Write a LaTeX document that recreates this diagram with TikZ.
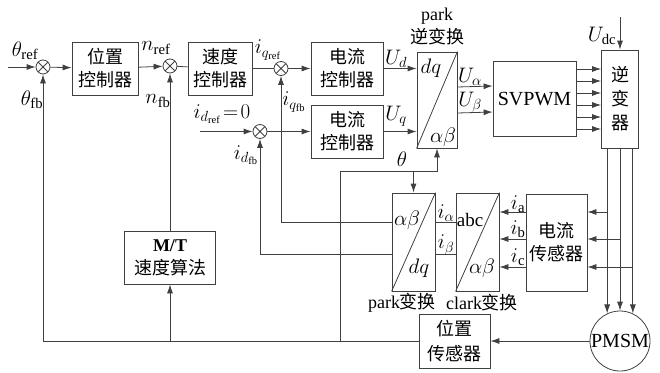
\RequirePackage{fix-cm}
\documentclass[tikz,border=0pt]{standalone}
\usepackage{fontspec}
\setmainfont{Liberation Serif}
\newfontfamily\cjk{Noto Sans CJK SC}
\usetikzlibrary{arrows.meta,positioning}

\begin{document}
\begin{tikzpicture}[x=1pt,y=-1pt,>={Latex[length=9pt,width=6pt]}]
		\tikzstyle{Line}	= [draw=black!75, line width=0.8pt]
		\tikzstyle{Block}	= [rectangle, Line, align=center, inner sep=0pt, font=\fontsize{18}{23}\selectfont\cjk]
		\tikzstyle{Sum}		= [circle, Line, minimum size=14pt, inner sep=0pt,
			path picture={\draw[Line] (path picture bounding box.north west) -- (path picture bounding box.south east)
				(path picture bounding box.north east) -- (path picture bounding box.south west);}]
		\tikzstyle{Label}	= [inner sep=0pt, font=\fontsize{21}{24}\selectfont]
		\useasboundingbox (0,0) rectangle (660,372);

		% forward path
		\node (s1) at (43,67) [Sum] {};
		\node (pc) at (105,68.5) [Block, minimum width=66pt, minimum height=53pt] {位置\\控制器};
		\node (s2) at (170,66) [Sum] {};
		\node (sc) at (220,68.5) [Block, minimum width=64pt, minimum height=53pt] {速度\\控制器};
		\node (s3) at (281,68.5) [Sum] {};
		\node (cc1) at (347,68.5) [Block, minimum width=72pt, minimum height=53pt] {电流\\控制器};
		\node (s4) at (260,131.5) [Sum] {};
		\node (cc2) at (347,131.5) [Block, minimum width=72pt, minimum height=53pt] {电流\\控制器};
		\node (pinv) at (437,100) [Block, minimum width=40pt, minimum height=96pt] {};
		\node (svpwm) at (534.5,99) [Block, minimum width=83pt, minimum height=75pt, font=\fontsize{20}{23}\selectfont] {SVPWM};
		\node (inv) at (620,99) [Block, minimum width=37pt, minimum height=98pt, font=\fontsize{18}{24}\selectfont\cjk] {逆\\变\\器};

		% feedback path
		\node (park) at (413.5,242) [Block, minimum width=43pt, minimum height=98pt] {};
		\node (clark) at (477.5,242) [Block, minimum width=43pt, minimum height=98pt] {};
		\node (cs) at (556.5,242.5) [Block, minimum width=61pt, minimum height=97pt] {电流\\传感器};
		\node (mt) at (170,257.5) [Block, minimum width=91pt, minimum height=53pt] {\rmfamily\textbf{M/T}\\速度算法};
		\node (ps) at (454.5,341) [Block, minimum width=71pt, minimum height=54pt, font=\fontsize{18}{25}\selectfont\cjk] {位置\\传感器};
		\node (pmsm) at (620,341) [circle, Line, minimum size=60pt, inner sep=0pt, font=\fontsize{20}{23}\selectfont] {PMSM};

		% texts in the transform blocks
		\node (pinv-dq) at (431,68) [Label] {$dq$};
		\node (pinv-ab) at (443,137) [Label] {$\alpha\beta$};
		\node (park-ab) at (407,220) [Label] {$\alpha\beta$};
		\node (park-dq) at (419,268) [Label] {$dq$};
		\node (clark-abc) at (470,220) [Label, font=\fontsize{19}{23}\selectfont] {abc};
		\node (clark-ab) at (482,268) [Label] {$\alpha\beta$};
		\node (pinv-lab) at (437,26) [Label, align=center, font=\fontsize{18}{23}\selectfont] {park\\{\cjk 逆变换}};
		\node (park-lab) at (402,303) [Label, font=\fontsize{18}{23}\selectfont] {park{\cjk 变换}};
		\node (clark-lab) at (482,303) [Label, font=\fontsize{18}{23}\selectfont] {clark{\cjk 变换}};

		% free ends and corners
		\coordinate (tin) at (8,67);
		\coordinate (din) at (200,131.5);
		\coordinate (udc) at (620,17);
		\coordinate (kq) at (281,222);
		\coordinate (kd) at (260,254);
		\coordinate (th0) at (340,341);
		\coordinate (th1) at (340,171);
		\coordinate (ta) at (607.3,212);
		\coordinate (tb) at (620,239);
		\coordinate (tc) at (632.7,267);

		\draw [->] (tin) to (s1) [Line];
		\draw [->] (s1) to (pc) [Line];
		\draw [->] (pc) to (s2) [Line];
		\draw [-] (s2) to (sc) [Line];
		\draw [-] (sc) to (s3) [Line];
		\draw [->] (s3) to (cc1) [Line];
		\draw [->] (din) to (s4) [Line];
		\draw [->] (s4) to (cc2) [Line];
		\draw [->] (cc1.east) to (cc1.east -| pinv.west) [Line];
		\draw [->] (cc2.east) to (cc2.east -| pinv.west) [Line];
		\draw [->] ([yshift=13pt]pinv.east) to ([yshift=13pt]svpwm.west) [Line];
		\draw [->] ([yshift=-13pt]pinv.east) to ([yshift=-13pt]svpwm.west) [Line];
		\foreach \dy in {-30,-18,-6,6,18,30}
			\draw [->] ([yshift=\dy pt]svpwm.east) to ([yshift=\dy pt]inv.west) [Line];
		\draw [->] (udc) to (inv.north) [Line];

		\draw [->] (pmsm.115 |- inv.south) to (pmsm.115) [Line];
		\draw [->] (pmsm.north |- inv.south) to (pmsm.north) [Line];
		\draw [->] (pmsm.65 |- inv.south) to (pmsm.65) [Line];
		\draw [->] (ta) to (ta -| cs.east) [Line];
		\draw [->] (tb) to (tb -| cs.east) [Line];
		\draw [->] (tc) to (tc -| cs.east) [Line];
		\draw [->] (ta -| cs.west) to (ta -| clark.east) [Line];
		\draw [->] (tb -| cs.west) to (tb -| clark.east) [Line];
		\draw [->] (tc -| cs.west) to (tc -| clark.east) [Line];
		\draw [-] (kq -| clark.west) to (kq -| park.east) [Line];
		\draw [-] (kd -| clark.west) to (kd -| park.east) [Line];
		\draw [->] (kq -| park.west) -- (kq) -- (s3) [Line];
		\draw [->] (kd -| park.west) -- (kd) -- (s4) [Line];

		\draw [->] (th0) -- (th1) -| (pinv.south) [Line];
		\draw [->] (th1 -| park.north) to (park.north) [Line];
		\draw [->] (pmsm) to (ps) [Line];
		\draw [->] (ps.west) -| (s1.south) [Line];
		\draw [->] (mt.south |- ps.west) to (mt.south) [Line];
		\draw [->] (mt) to (s2) [Line];

		\draw (pinv.south west) -- (pinv.north east) [Line];
		\draw (park.south west) -- (park.north east) [Line];
		\draw (clark.south west) -- (clark.north east) [Line];

		% signal labels
		\node (l-thref) at (25,51) [Label] {$\theta_{\mathrm{ref}}$};
		\node (l-thfb) at (32,100) [Label] {$\theta_{\mathrm{fb}}$};
		\node (l-nref) at (156,48) [Label] {$n_{\mathrm{ref}}$};
		\node (l-nfb) at (158,101) [Label] {$n_{\mathrm{fb}}$};
		\node (l-iqref) at (268,50) [Label] {$i_{q_{\mathrm{ref}}}$};
		\node (l-iqfb) at (294,102) [Label] {$i_{q_{\mathrm{fb}}}$};
		\node (l-idref) at (222,114) [Label] {$i_{d_{\mathrm{ref}}}\!=\!0$};
		\node (l-idfb) at (246,155) [Label] {$i_{d_{\mathrm{fb}}}$};
		\node (l-ud) at (396,59) [Label] {$U_d$};
		\node (l-uq) at (396,116) [Label] {$U_q$};
		\node (l-ua) at (470,77) [Label] {$U_\alpha$};
		\node (l-ub) at (470,102) [Label] {$U_\beta$};
		\node (l-udc) at (602,36) [Label] {$U_{\mathrm{dc}}$};
		\node (l-th) at (402,159) [Label] {$\theta$};
		\node (l-ial) at (446,213) [Label] {$i_\alpha$};
		\node (l-ibe) at (446,245) [Label] {$i_\beta$};
		\node (l-ia) at (518,204) [Label] {$i_{\mathrm{a}}$};
		\node (l-ib) at (518,229) [Label] {$i_{\mathrm{b}}$};
		\node (l-ic) at (518,257) [Label] {$i_{\mathrm{c}}$};
	\end{tikzpicture}
\end{document}
